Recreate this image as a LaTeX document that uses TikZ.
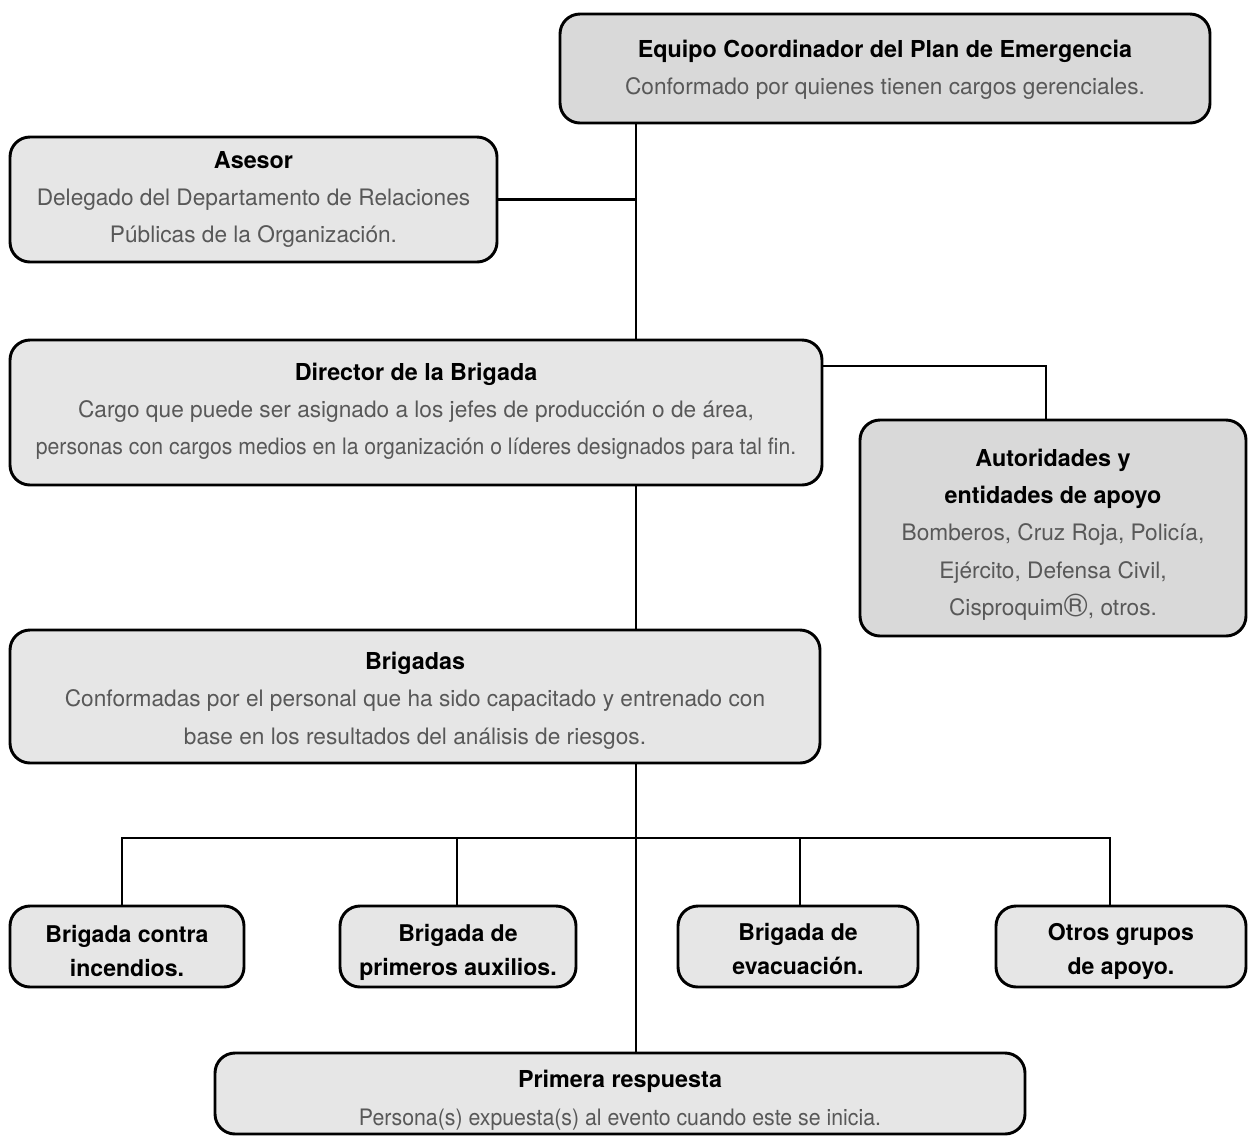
\documentclass[tikz,border=0pt]{standalone}
\usepackage{fontspec}
\usepackage{graphicx}
\setmainfont{TeX Gyre Heros}
\definecolor{darkfill}{HTML}{D9D9D9}
\definecolor{lightfill}{HTML}{E6E6E6}
\definecolor{desc}{HTML}{585858}
\tikzset{
  box/.style={draw=black, line width=2.2pt, rounded corners=15pt, inner sep=0pt},
  conn/.style={draw=black, line width=2.2pt},
  txt/.style={align=center, inner sep=0pt, font=\fontsize{17pt}{28pt}\selectfont},
  sml/.style={align=center, inner sep=0pt, font=\fontsize{17.3pt}{25.5pt}\selectfont\bfseries},
}
\newcommand{\dsc}[1]{{\color{desc}#1}}
\newcommand{\ttlx}[1]{{\fontsize{17.5pt}{28pt}\selectfont\bfseries #1}}
\begin{document}
\begin{tikzpicture}[x=0.75pt,y=-0.75pt]
\useasboundingbox (0,0) rectangle (1248,1136);
% boxes
\node[box, fill=darkfill, minimum width={650*0.75pt}, minimum height={109*0.75pt}] (eq) at (885,68.5) {};
\node[box, fill=lightfill, minimum width={487*0.75pt}, minimum height={125*0.75pt}] (as) at (253.5,199.5) {};
\node[box, fill=lightfill, minimum width={812*0.75pt}, minimum height={145*0.75pt}] (dir) at (416,412.5) {};
\node[box, fill=darkfill, minimum width={386*0.75pt}, minimum height={216*0.75pt}] (aut) at (1053,528) {};
\node[box, fill=lightfill, minimum width={810*0.75pt}, minimum height={133*0.75pt}] (brs) at (415,696.5) {};
\node[box, fill=lightfill, minimum width={234*0.75pt}, minimum height={81*0.75pt}] (b1) at (127,946.5) {};
\node[box, fill=lightfill, minimum width={236*0.75pt}, minimum height={81*0.75pt}] (b2) at (458,946.5) {};
\node[box, fill=lightfill, minimum width={240*0.75pt}, minimum height={81*0.75pt}] (b3) at (798,946.5) {};
\node[box, fill=lightfill, minimum width={250*0.75pt}, minimum height={81*0.75pt}] (b4) at (1121,946.5) {};
\node[box, fill=lightfill, minimum width={810*0.75pt}, minimum height={81*0.75pt}] (pr) at (620,1093.5) {};
% texts
\node[txt] (eqt) at ([yshift=-0.75pt]eq.center)
  {\ttlx{Equipo Coordinador del Plan de Emergencia}\\ \dsc{Conformado por quienes tienen cargos gerenciales.}};
\node[txt] (ast) at (as.center)
  {\ttlx{Asesor}\\ \dsc{Delegado del Departamento de Relaciones}\\ \dsc{Públicas de la Organización.}};
\node[txt] (dirt) at ([yshift=1pt]dir.center)
  {\ttlx{Director de la Brigada}\\ \dsc{Cargo que puede ser asignado a los jefes de producción o de área,}\\ \dsc{\scalebox{0.935}[1]{personas con cargos medios en la organización o líderes designados para tal fin.}}};
\node[txt] (autt) at ([yshift=-5pt]aut.center)
  {\ttlx{Autoridades y}\\ \ttlx{entidades de apoyo}\\ \dsc{Bomberos, Cruz Roja, Policía,}\\ \dsc{Ejército, Defensa Civil,}\\ \dsc{Cisproquim\raisebox{-0.12ex}{\scalebox{1.45}{®}}, otros.}};
\node[txt] (brst) at ([yshift=-3pt]brs.center)
  {\ttlx{Brigadas}\\ \dsc{Conformadas por el personal que ha sido capacitado y entrenado con}\\ \dsc{base en los resultados del análisis de riesgos.}};
\node[sml] (b1t) at ([yshift=-3.5pt]b1.center) {Brigada contra\\ incendios.};
\node[sml] (b2t) at ([yshift=-4.5pt]b2.center) {Brigada de\\ primeros auxilios.};
\node[sml] (b3t) at ([yshift=-2pt]b3.center) {Brigada de\\ evacuación.};
\node[sml] (b4t) at ([yshift=-3.5pt]b4.center) {Otros grupos\\ de apoyo.};
\node[txt] (prt) at ([yshift=-5pt]pr.center)
  {\ttlx{Primera respuesta}\\ \dsc{\scalebox{0.94}[1]{Persona(s) expuesta(s) al evento cuando este se inicia.}}};
% helper coordinates
\coordinate (t) at (636,0);
\coordinate (dj) at (1046,366);
\coordinate (d1) at (122,838);
\coordinate (d2) at (457,838);
\coordinate (d3) at (800,838);
\coordinate (d4) at (1110,838);
% connectors
\draw[conn] (eq.south -| t) -- (dir.north -| t);
\draw[conn] (as.east) -- (as.east -| t);
\draw[conn] (dir.east |- dj) -- (dj) -- (aut.north -| dj);
\draw[conn] (dir.south -| t) -- (brs.north -| t);
\draw[conn] (brs.south -| t) -- (pr.north -| t);
\draw[conn] (b1.north -| d1) -- (d1) -- (d4) -- (b4.north -| d4);
\draw[conn] (d2) -- (b2.north -| d2);
\draw[conn] (d3) -- (b3.north -| d3);
\end{tikzpicture}
\end{document}
